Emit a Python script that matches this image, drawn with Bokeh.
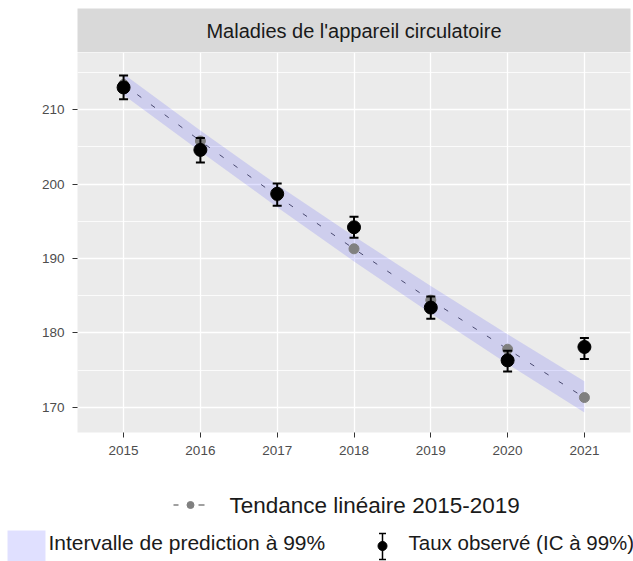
from bokeh.plotting import figure
from bokeh.models import ColumnDataSource, Range1d, FixedTicker, Whisker, TeeHead
from bokeh.layouts import column
from bokeh.embed import file_html
from bokeh.resources import INLINE
from bokeh.core.properties import value

# ---------------- data ----------------
years = [2015, 2016, 2017, 2018, 2019, 2020, 2021]
observed = [213.0, 204.6, 198.7, 194.2, 183.4, 176.3, 178.1]
obs_lower = [211.4, 202.9, 197.1, 192.8, 181.9, 174.8, 176.5]
obs_upper = [214.6, 206.2, 200.1, 195.6, 184.9, 177.6, 179.3]
trend = [213.4, 205.8, 198.4, 191.3, 184.4, 177.8, 171.3]
pi_lower = [212.0, 204.4, 196.9, 189.6, 182.6, 175.8, 169.3]
pi_upper = [214.8, 207.2, 199.9, 193.0, 186.3, 179.8, 173.5]
y_ticks = [170, 180, 190, 200, 210]
y_minor = [165, 175, 185, 195, 205, 215]
strip_title = "Maladies de l'appareil circulatoire"
lab_trend = "Tendance linéaire 2015-2019"
lab_pi = "Intervalle de prediction à 99%"
lab_obs = "Taux observé (IC à 99%)"

FONT_NAME = "Liberation Sans"
FONT = value(FONT_NAME)
W = 633
BAND = "#0000ff"
BAND_ALPHA = 0.12
TREND_PT = "#808080"
TREND_LINE = "#4a4a70"

# ---------------- strip ----------------
strip = figure(width=W, height=52, x_range=Range1d(0, 1), y_range=Range1d(0, 1),
               min_border_left=77, min_border_right=3, min_border_top=8, min_border_bottom=0,
               x_axis_type=None, y_axis_type=None, background_fill_color="#d9d9d9",
               border_fill_color="white", outline_line_color=None,
               output_backend="svg", toolbar_location=None)
strip.text(x=[0.5], y=[0.5], text=[strip_title], text_font=FONT, text_font_size="20px",
           text_align="center", text_baseline="middle", text_color="#1a1a1a")

# ---------------- main panel ----------------
src = ColumnDataSource(dict(year=years, observed=observed, obs_lower=obs_lower,
                            obs_upper=obs_upper, trend=trend, pi_lower=pi_lower,
                            pi_upper=pi_upper))

p = figure(width=W, height=410, x_range=Range1d(2014.4, 2021.6), y_range=Range1d(166.6, 217.7),
           min_border_left=77, min_border_right=3, min_border_top=0, min_border_bottom=30,
           background_fill_color="#ebebeb", border_fill_color="white", outline_line_color=None,
           output_backend="svg", toolbar_location=None)

p.xaxis.ticker = FixedTicker(ticks=years)
p.yaxis.ticker = FixedTicker(ticks=y_ticks, minor_ticks=y_minor)
for ax in (p.xaxis, p.yaxis):
    ax.axis_line_color = None
    ax.major_tick_line_color = "#333333"
    ax.major_tick_out = 5
    ax.major_tick_in = 0
    ax.minor_tick_line_color = None
    ax.major_label_text_font = FONT_NAME
    ax.major_label_text_font_size = "13.5px"
    ax.major_label_text_color = "#4d4d4d"
    ax.major_label_standoff = 8

p.xgrid.grid_line_color = "white"
p.xgrid.grid_line_width = 1.3
p.ygrid.grid_line_color = "white"
p.ygrid.grid_line_width = 1.3
p.ygrid.minor_grid_line_color = "white"
p.ygrid.minor_grid_line_width = 0.8

p.varea(x="year", y1="pi_lower", y2="pi_upper", source=src,
        fill_color=BAND, fill_alpha=BAND_ALPHA)
p.line(x="year", y="trend", source=src, line_color=TREND_LINE, line_width=1,
       line_dash="5 12")
p.scatter(x="year", y="trend", source=src, size=10, color=TREND_PT)

wh = Whisker(source=src, base="year", lower="obs_lower", upper="obs_upper",
             line_color="black", line_width=2,
             lower_head=TeeHead(size=9, line_width=2, line_color="black"),
             upper_head=TeeHead(size=9, line_width=2, line_color="black"),
             level="glyph")
p.add_layout(wh)
p.scatter(x="year", y="observed", source=src, size=13, color="black")

# ---------------- legend (drawn in its own canvas, pixel coordinates) ----------------
LH = 99
leg = figure(width=W, height=LH, x_range=Range1d(0, W), y_range=Range1d(LH, 0),
             min_border=0, x_axis_type=None, y_axis_type=None, outline_line_color=None,
             background_fill_color="white", border_fill_color="white",
             output_backend="svg", toolbar_location=None)
leg.frame_align = False

row1 = 42.5
row2 = 79.5
# trend key: dash - dot - dash
leg.segment(x0=[173, 198], x1=[178, 204], y0=[row1, row1], y1=[row1, row1],
            line_color=TREND_PT, line_width=1.5)
leg.scatter(x=[190], y=[row1], size=7, color=TREND_PT)
leg.text(x=[229], y=[row1], text=[lab_trend], text_font=FONT, text_font_size="22.5px",
         text_baseline="middle", text_color="#1a1a1a")

# prediction interval key
leg.quad(left=[7], right=[45], top=[68], bottom=[LH + 4], fill_color=BAND,
         fill_alpha=BAND_ALPHA, line_color=None)
leg.text(x=[48], y=[row2], text=[lab_pi], text_font=FONT, text_font_size="21px",
         text_baseline="middle", text_color="#1a1a1a")

# observed key: error bar + dot
leg.segment(x0=[382], x1=[382], y0=[71], y1=[97], line_color="black", line_width=1.5)
leg.segment(x0=[378.5, 378.5], x1=[385.5, 385.5], y0=[71, 97], y1=[71, 97],
            line_color="black", line_width=1.5)
leg.scatter(x=[382], y=[83.5], size=9, color="black")
leg.text(x=[408], y=[row2], text=[lab_obs], text_font=FONT, text_font_size="20.5px",
         text_baseline="middle", text_color="#1a1a1a")

layout = column(strip, p, leg, spacing=0)
open("out.html", "w").write(file_html(layout, INLINE))
